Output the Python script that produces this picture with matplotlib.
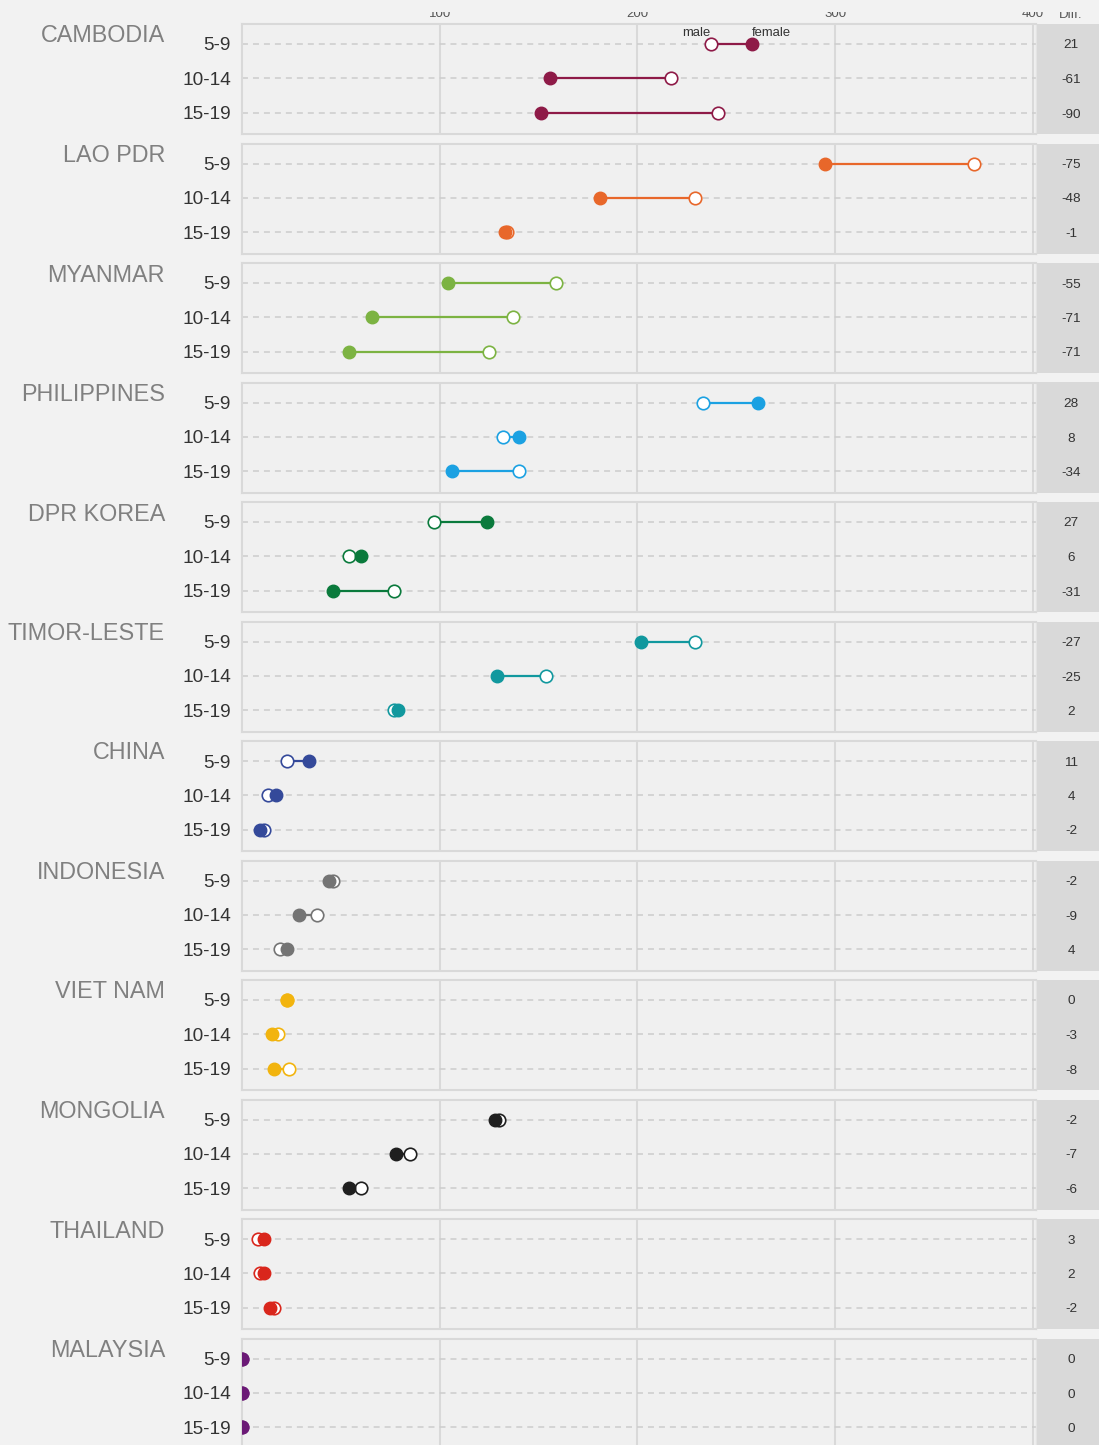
import matplotlib
matplotlib.use("Agg")
import matplotlib.pyplot as plt
from matplotlib.patches import Rectangle
from matplotlib.transforms import Bbox

plt.rcParams["font.family"] = ["Liberation Sans", "DejaVu Sans"]
plt.rcParams["lines.scale_dashes"] = False

countries = ["CAMBODIA", "LAO PDR", "MYANMAR", "PHILIPPINES", "DPR KOREA",
             "TIMOR-LESTE", "CHINA", "INDONESIA", "VIET NAM", "MONGOLIA",
             "THAILAND", "MALAYSIA"]
age_groups = ["5-9", "10-14", "15-19"]

# one row per country, one value per age group
male = [
    [237, 217, 241],
    [370, 229, 134],
    [159, 137, 125],
    [233, 132, 140],
    [97, 54, 77],
    [229, 154, 77],
    [23, 13, 11],
    [46, 38, 19],
    [23, 18, 24],
    [130, 85, 60],
    [8, 9, 16],
    [0, 0, 0],
]
female = [
    [258, 156, 151],
    [295, 181, 133],
    [104, 66, 54],
    [261, 140, 106],
    [124, 60, 46],
    [202, 129, 79],
    [34, 17, 9],
    [44, 29, 23],
    [23, 15, 16],
    [128, 78, 54],
    [11, 11, 14],
    [0, 0, 0],
]
colors = ["#8e1a47", "#e8672a", "#7cb342", "#1ba1e2", "#0a7a3c", "#11989e",
          "#34499a", "#747474", "#f2b40e", "#1f1f1f", "#d9261c", "#6b1a76"]
x_ticks = [100, 200, 300, 400]

W, H = 1099, 1445
BG = "#f2f2f2"
GRID = "#d9d9d9"

fig = plt.figure(figsize=(W / 100, H / 100), dpi=100, facecolor=BG)


def fx(px):
    return px / W


def fy(py):
    return 1 - py / H


left, right = 242, 1036
top0, pitch, panel_h = 24, 119.5, 110
diff_left, diff_x = 1037, 1071

# labels along the top edge are cut off a little at their upper side
top_clip = Bbox([[0, 0], [W, H - 11.5]])

for i, name in enumerate(countries):
    top = top0 + i * pitch
    c = colors[i]
    ax = fig.add_axes([fx(left), fy(top + panel_h), fx(right - left), panel_h / H])
    ax.set_facecolor("#f0f0f0")
    ax.set_xlim(0, 401.6)
    ax.set_ylim(2.61, -0.58)
    for s in ax.spines.values():
        s.set_color(GRID)
        s.set_linewidth(1.5)
    ax.spines["right"].set_color("#e4e4e4")
    ax.spines["right"].set_linewidth(1)

    ax.set_xticks(x_ticks)
    ax.set_yticks(range(len(age_groups)))
    ax.set_yticklabels(age_groups, fontsize=13.7, color="#333333")
    ax.tick_params(axis="y", length=0, pad=8)
    ax.tick_params(axis="x", length=0, bottom=False, labelbottom=False)
    ax.set_axisbelow(True)
    ax.grid(True, axis="x", color=GRID, lw=1.5)
    ax.grid(True, axis="y", color="#cccccc", lw=1.1, linestyle=(0, (4.3, 3.6)))

    for j in range(len(age_groups)):
        m, f = male[i][j], female[i][j]
        ax.plot([m, f], [j, j], color=c, lw=1.6, zorder=3)
        ax.plot(m, j, "o", ms=9.0, mfc="white", mec=c, mew=1.2, zorder=4)
        ax.plot(f, j, "o", ms=9.0, mfc=c, mec=c, mew=1.0, zorder=5)
        # difference column: female minus male
        fig.text(fx(diff_x), fy(top + 20 + j * 34.5), f"{f - m}",
                 ha="center", va="center_baseline", fontsize=9.7, color="#333333")

    fig.patches.append(Rectangle((fx(diff_left), fy(top + panel_h)),
                                 fx(W - diff_left), panel_h / H,
                                 transform=fig.transFigure,
                                 facecolor="#d9d9d9", edgecolor="none", zorder=0))

    fig.text(fx(165), fy(top + 18.5), name, ha="right", va="baseline",
             fontsize=16.8, color="#808080")

    if i == 0:
        ax.tick_params(axis="x", top=True, labeltop=True, length=0, pad=3,
                       labelsize=9.5, labelcolor="#555555")
        for tk in ax.xaxis.get_major_ticks():
            tk.label2.set_clip_box(top_clip)
            tk.label2.set_clip_on(True)
        ax.annotate("male", xy=(male[0][0], 0), xytext=(0, 5.5),
                    textcoords="offset points", ha="right", va="baseline",
                    fontsize=9.4, color="#333333")
        ax.annotate("female", xy=(female[0][0], 0), xytext=(0, 5.5),
                    textcoords="offset points", ha="left", va="baseline",
                    fontsize=9.4, color="#333333")
        hdr = fig.text(fx(diff_x), fy(17.5), "Diff.", ha="center",
                       va="baseline", fontsize=9.5, color="#555555")
        hdr.set_clip_box(top_clip)
        hdr.set_clip_on(True)

fig.savefig("out.png", dpi=100, facecolor=BG)
